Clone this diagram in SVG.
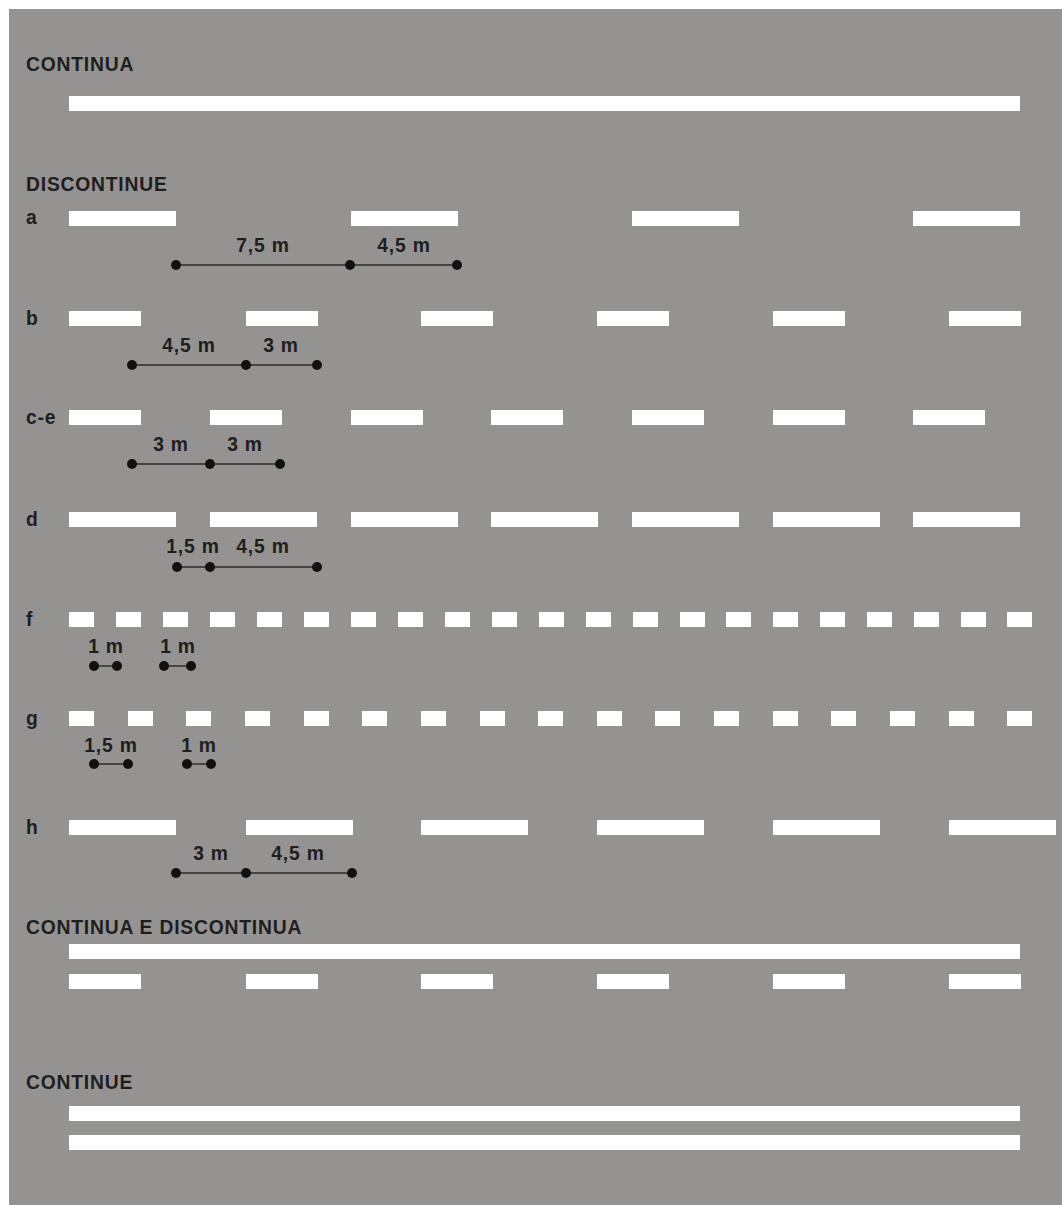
<svg xmlns="http://www.w3.org/2000/svg" width="1062" height="1205" viewBox="0 0 1062 1205">
<style>
.m{fill:#ffffff}
.h{font-family:"Liberation Sans",Arial,sans-serif;font-weight:bold;font-size:19.3px;letter-spacing:0.8px;fill:#1e1e1e}
.v{font-family:"Liberation Sans",Arial,sans-serif;font-weight:bold;font-size:19.3px;letter-spacing:0.8px;fill:#1e1e1e;text-anchor:middle}
.dl{stroke:#2a2a2a;stroke-width:1.4;fill:none}
.dot{fill:#111111}
</style>
<defs>
<rect id="L" width="107" height="15" class="m"/>
<rect id="M" width="72" height="15" class="m"/>
<rect id="S" width="25" height="15" class="m"/>
</defs>
<rect x="0" y="0" width="1062" height="1205" fill="#ffffff"/>
<rect x="9" y="9" width="1053" height="1196" fill="#949391"/>

<g id="continua">
<text class="h" x="26" y="71">CONTINUA</text>
<rect class="m" x="69" y="96" width="951" height="15"/>
</g>

<text id="discontinue-title" class="h" x="26" y="191">DISCONTINUE</text>

<g id="row-a">
<text class="h" x="26" y="224">a</text>
<use href="#L" x="69" y="211"/><use href="#L" x="351" y="211"/><use href="#L" x="632" y="211"/><use href="#L" x="913" y="211"/>
</g>
<g id="row-b">
<text class="h" x="26" y="325">b</text>
<use href="#M" x="69" y="311"/><use href="#M" x="246" y="311"/><use href="#M" x="421" y="311"/><use href="#M" x="597" y="311"/><use href="#M" x="773" y="311"/><use href="#M" x="949" y="311"/>
</g>
<g id="row-ce">
<text class="h" x="26" y="424">c-e</text>
<use href="#M" x="69" y="410"/><use href="#M" x="210" y="410"/><use href="#M" x="351" y="410"/><use href="#M" x="491" y="410"/><use href="#M" x="632" y="410"/><use href="#M" x="773" y="410"/><use href="#M" x="913" y="410"/>
</g>
<g id="row-d">
<text class="h" x="26" y="526">d</text>
<use href="#L" x="69" y="512"/><use href="#L" x="210" y="512"/><use href="#L" x="351" y="512"/><use href="#L" x="491" y="512"/><use href="#L" x="632" y="512"/><use href="#L" x="773" y="512"/><use href="#L" x="913" y="512"/>
</g>
<g id="row-f">
<text class="h" x="26" y="626">f</text>
<use href="#S" x="69" y="612"/><use href="#S" x="116" y="612"/><use href="#S" x="163" y="612"/><use href="#S" x="210" y="612"/><use href="#S" x="257" y="612"/><use href="#S" x="304" y="612"/><use href="#S" x="351" y="612"/><use href="#S" x="398" y="612"/><use href="#S" x="445" y="612"/><use href="#S" x="492" y="612"/><use href="#S" x="539" y="612"/><use href="#S" x="586" y="612"/><use href="#S" x="633" y="612"/><use href="#S" x="680" y="612"/><use href="#S" x="726" y="612"/><use href="#S" x="773" y="612"/><use href="#S" x="820" y="612"/><use href="#S" x="867" y="612"/><use href="#S" x="914" y="612"/><use href="#S" x="961" y="612"/><use href="#S" x="1007" y="612"/>
</g>
<g id="row-g">
<text class="h" x="26" y="725">g</text>
<use href="#S" x="69" y="711"/><use href="#S" x="128" y="711"/><use href="#S" x="186" y="711"/><use href="#S" x="245" y="711"/><use href="#S" x="304" y="711"/><use href="#S" x="362" y="711"/><use href="#S" x="421" y="711"/><use href="#S" x="480" y="711"/><use href="#S" x="538" y="711"/><use href="#S" x="597" y="711"/><use href="#S" x="655" y="711"/><use href="#S" x="714" y="711"/><use href="#S" x="773" y="711"/><use href="#S" x="831" y="711"/><use href="#S" x="890" y="711"/><use href="#S" x="949" y="711"/><use href="#S" x="1007" y="711"/>
</g>
<g id="row-h">
<text class="h" x="26" y="834">h</text>
<use href="#L" x="69" y="820"/><use href="#L" x="246" y="820"/><use href="#L" x="421" y="820"/><use href="#L" x="597" y="820"/><use href="#L" x="773" y="820"/><use href="#L" x="949" y="820"/>
</g>

<g id="continua-e-discontinua">
<text class="h" x="26" y="934">CONTINUA E DISCONTINUA</text>
<rect class="m" x="69" y="944" width="951" height="15"/>
<use href="#M" x="69" y="974"/><use href="#M" x="246" y="974"/><use href="#M" x="421" y="974"/><use href="#M" x="597" y="974"/><use href="#M" x="773" y="974"/><use href="#M" x="949" y="974"/>
</g>

<g id="continue">
<text class="h" x="26" y="1089">CONTINUE</text>
<rect class="m" x="69" y="1106" width="951" height="15"/>
<rect class="m" x="69" y="1135" width="951" height="15"/>
</g>

<g id="dimensions">
<g id="dim-a">
<line class="dl" x1="176" y1="265" x2="457" y2="265"/>
<circle class="dot" cx="176" cy="265" r="5"/><circle class="dot" cx="350" cy="265" r="5"/><circle class="dot" cx="457" cy="265" r="5"/>
<text class="v" x="263" y="252">7,5 m</text><text class="v" x="404" y="252">4,5 m</text>
</g>
<g id="dim-b">
<line class="dl" x1="132" y1="365" x2="317" y2="365"/>
<circle class="dot" cx="132" cy="365" r="5"/><circle class="dot" cx="246" cy="365" r="5"/><circle class="dot" cx="317" cy="365" r="5"/>
<text class="v" x="189" y="352">4,5 m</text><text class="v" x="281" y="352">3 m</text>
</g>
<g id="dim-ce">
<line class="dl" x1="132" y1="464" x2="280" y2="464"/>
<circle class="dot" cx="132" cy="464" r="5"/><circle class="dot" cx="210" cy="464" r="5"/><circle class="dot" cx="280" cy="464" r="5"/>
<text class="v" x="171" y="451">3 m</text><text class="v" x="245" y="451">3 m</text>
</g>
<g id="dim-d">
<line class="dl" x1="177" y1="567" x2="317" y2="567"/>
<circle class="dot" cx="177" cy="567" r="5"/><circle class="dot" cx="210" cy="567" r="5"/><circle class="dot" cx="317" cy="567" r="5"/>
<text class="v" x="193" y="553">1,5 m</text><text class="v" x="263" y="553">4,5 m</text>
</g>
<g id="dim-f">
<line class="dl" x1="94" y1="666" x2="117" y2="666"/>
<circle class="dot" cx="94" cy="666" r="5"/><circle class="dot" cx="117" cy="666" r="5"/>
<line class="dl" x1="164" y1="666" x2="191" y2="666"/>
<circle class="dot" cx="164" cy="666" r="5"/><circle class="dot" cx="191" cy="666" r="5"/>
<text class="v" x="106" y="653">1 m</text><text class="v" x="178" y="653">1 m</text>
</g>
<g id="dim-g">
<line class="dl" x1="94" y1="764" x2="128" y2="764"/>
<circle class="dot" cx="94" cy="764" r="5"/><circle class="dot" cx="128" cy="764" r="5"/>
<line class="dl" x1="187" y1="764" x2="211" y2="764"/>
<circle class="dot" cx="187" cy="764" r="5"/><circle class="dot" cx="211" cy="764" r="5"/>
<text class="v" x="111" y="752">1,5 m</text><text class="v" x="199" y="752">1 m</text>
</g>
<g id="dim-h">
<line class="dl" x1="176" y1="873" x2="352" y2="873"/>
<circle class="dot" cx="176" cy="873" r="5"/><circle class="dot" cx="246" cy="873" r="5"/><circle class="dot" cx="352" cy="873" r="5"/>
<text class="v" x="211" y="860">3 m</text><text class="v" x="298" y="860">4,5 m</text>
</g>
</g>
</svg>
